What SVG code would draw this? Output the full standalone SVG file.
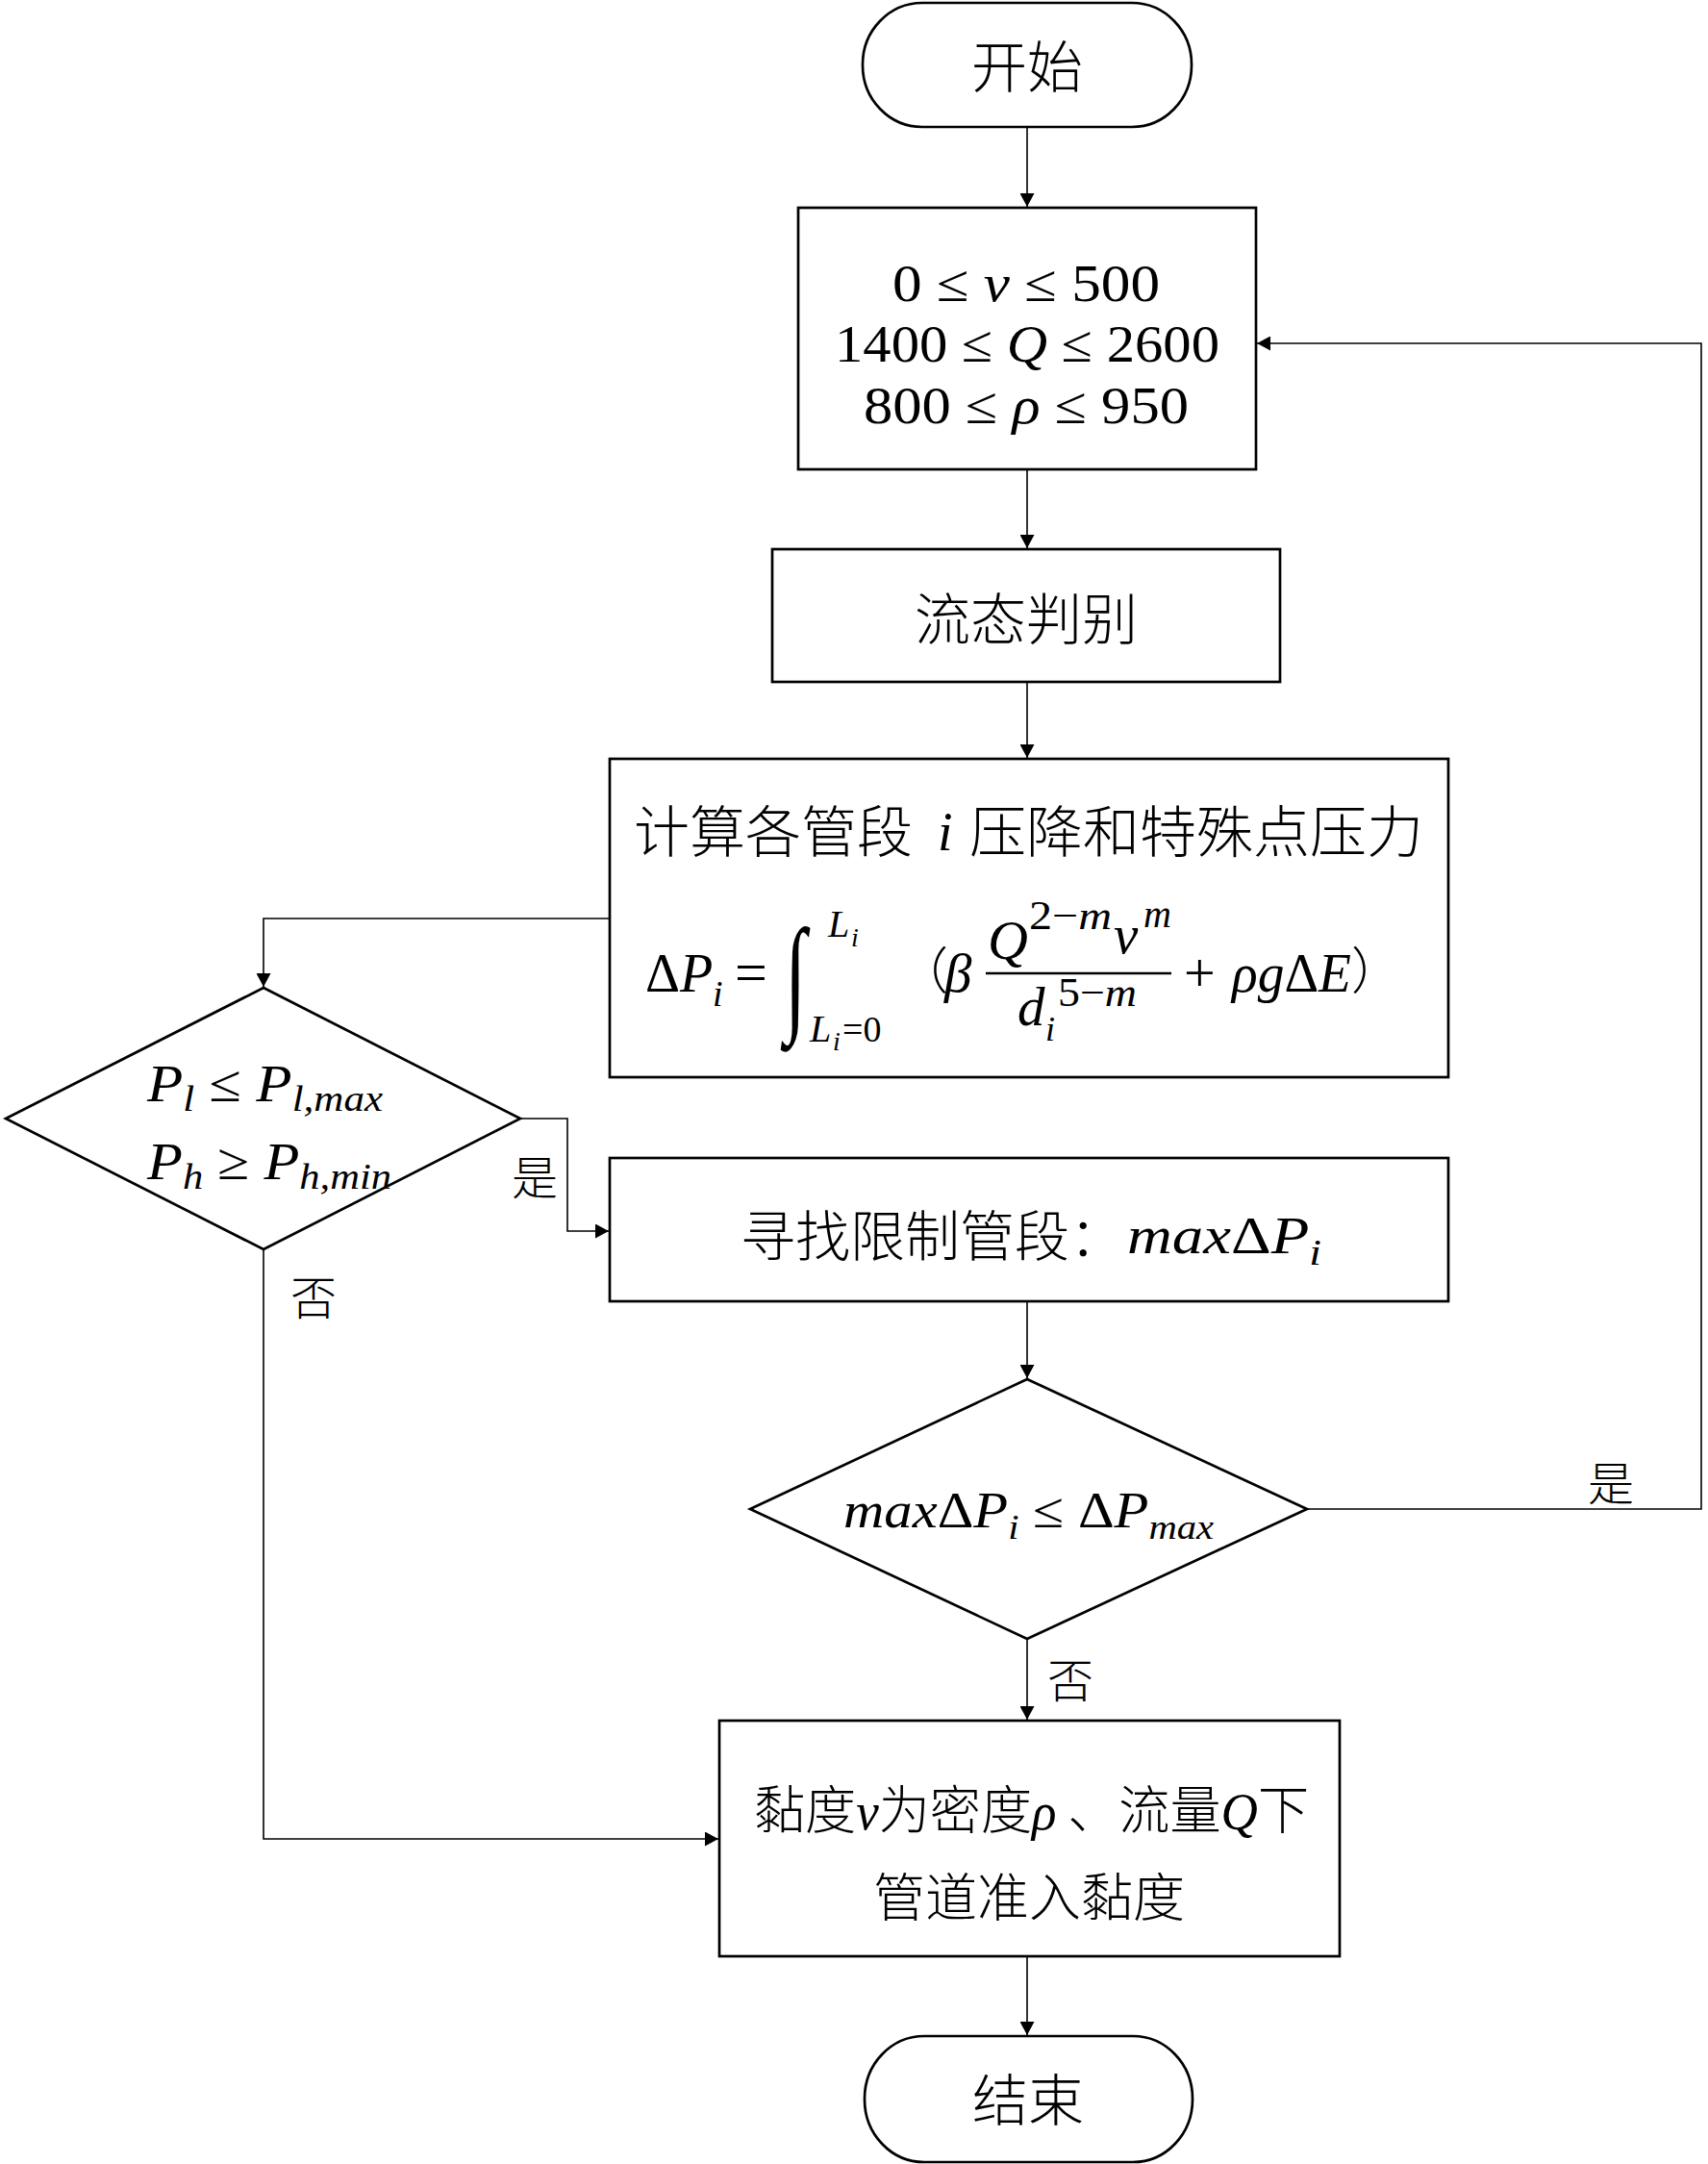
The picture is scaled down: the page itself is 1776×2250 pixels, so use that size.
<svg xmlns="http://www.w3.org/2000/svg" width="1776" height="2250" viewBox="0 0 1776 2250">
<defs>
<style>
.box{fill:#fff;stroke:#000;stroke-width:2.7}
.con{fill:none;stroke:#000;stroke-width:1.6}
.cjk{font-family:"Noto Sans CJK SC","Noto Sans CJK JP",sans-serif;font-weight:300;fill:#000}
.m{font-family:"Liberation Serif","DejaVu Serif",serif;fill:#000}
.it{font-style:italic}
</style>
<marker id="ah" markerUnits="userSpaceOnUse" markerWidth="15" markerHeight="15" refX="14" refY="7.5" orient="auto">
<path d="M0,0 L14,7.5 L0,15 z" fill="#000"/>
</marker>
</defs>
<rect width="1776" height="2250" fill="#fff"/>

<g id="connectors">
<path class="con" d="M1068,132 V215" marker-end="url(#ah)"/>
<path class="con" d="M1068,488 V570" marker-end="url(#ah)"/>
<path class="con" d="M1068,709 V788" marker-end="url(#ah)"/>
<path class="con" d="M634,955 H274 V1026" marker-end="url(#ah)"/>
<path class="con" d="M541,1163 H590 V1280 H633" marker-end="url(#ah)"/>
<path class="con" d="M274,1299 V1912 H747" marker-end="url(#ah)"/>
<path class="con" d="M1068,1353 V1433" marker-end="url(#ah)"/>
<path class="con" d="M1359,1569 H1769 V357 H1307" marker-end="url(#ah)"/>
<path class="con" d="M1068,1704 V1788" marker-end="url(#ah)"/>
<path class="con" d="M1068,2034 V2116" marker-end="url(#ah)"/>
<text class="cjk" x="556" y="1242" font-size="48" text-anchor="middle">是</text>
<text class="cjk" x="326" y="1367" font-size="48" text-anchor="middle">否</text>
<text class="cjk" x="1675" y="1560" font-size="48" text-anchor="middle">是</text>
<text class="cjk" x="1113" y="1765" font-size="48" text-anchor="middle">否</text>
</g>

<g id="start">
<rect class="box" x="897" y="3" width="342" height="129" rx="62" ry="64"/>
<text class="cjk" x="1068" y="91" font-size="58" text-anchor="middle">开始</text>
</g>

<g id="ranges">
<rect class="box" x="830" y="216" width="476" height="272"/>
<text class="m" x="1067" y="313" font-size="54" text-anchor="middle" textLength="278" lengthAdjust="spacingAndGlyphs">0 ≤ <tspan class="it">ν</tspan> ≤ 500</text>
<text class="m" x="1068" y="376" font-size="54" text-anchor="middle" textLength="400" lengthAdjust="spacingAndGlyphs">1400 ≤ <tspan class="it">Q</tspan> ≤ 2600</text>
<text class="m" x="1067" y="440" font-size="54" text-anchor="middle" textLength="338" lengthAdjust="spacingAndGlyphs">800 ≤ <tspan class="it">ρ</tspan> ≤ 950</text>
</g>

<g id="flow-regime">
<rect class="box" x="803" y="571" width="528" height="138"/>
<text class="cjk" x="1067" y="665" font-size="58" text-anchor="middle">流态判别</text>
</g>

<g id="pressure-calc">
<rect class="box" x="634" y="789" width="872" height="331"/>
<text class="cjk" x="659" y="886" font-size="58" textLength="290" lengthAdjust="spacingAndGlyphs">计算各管段</text>
<text class="m it" x="975" y="884" font-size="56">i</text>
<text class="cjk" x="1008" y="886" font-size="58" textLength="472" lengthAdjust="spacingAndGlyphs">压降和特殊点压力</text>
<text class="m" x="671" y="1031" font-size="56">Δ<tspan class="it">P</tspan></text>
<text class="m it" x="741" y="1046" font-size="38">i</text>
<text class="m" x="764" y="1031" font-size="60">=</text>
<text class="m" transform="translate(816,1058) scale(1.1,1.8)" font-size="74">∫</text>
<text class="m it" x="861" y="974" font-size="40">L</text>
<text class="m it" x="885" y="984" font-size="28">i</text>
<text class="m it" x="842" y="1083" font-size="40">L</text>
<text class="m it" x="866" y="1092" font-size="28">i</text>
<text class="m" x="876" y="1083" font-size="38">=0</text>
<text class="cjk" x="934" y="1028" font-size="52">（</text>
<text class="m it" x="982" y="1031" font-size="57">β</text>
<line x1="1025" y1="1012" x2="1218" y2="1012" stroke="#000" stroke-width="2.5"/>
<text class="m it" x="1027" y="997" font-size="58">Q</text>
<text class="m" x="1070" y="966" font-size="42" textLength="86" lengthAdjust="spacingAndGlyphs">2−<tspan class="it">m</tspan></text>
<text class="m it" x="1158" y="991" font-size="57">ν</text>
<text class="m it" x="1189" y="964" font-size="40">m</text>
<text class="m it" x="1058" y="1066" font-size="57">d</text>
<text class="m it" x="1087" y="1082" font-size="36">i</text>
<text class="m" x="1100" y="1046" font-size="42" textLength="82" lengthAdjust="spacingAndGlyphs">5−<tspan class="it">m</tspan></text>
<text class="m" x="1231" y="1031" font-size="58">+</text>
<text class="m" x="1281" y="1031" font-size="57" textLength="124" lengthAdjust="spacingAndGlyphs"><tspan class="it">ρg</tspan>Δ<tspan class="it">E</tspan></text>
<text class="cjk" x="1405" y="1028" font-size="52">）</text>
</g>

<g id="pressure-check">
<polygon class="box" points="274,1027 541,1163 274,1299 6,1163"/>
<text class="m" x="153" y="1145" font-size="54" textLength="245" lengthAdjust="spacingAndGlyphs"><tspan class="it">P</tspan><tspan class="it" font-size="38" dy="10">l</tspan><tspan dy="-10"> ≤ </tspan><tspan class="it">P</tspan><tspan class="it" font-size="38" dy="10">l,max</tspan></text>
<text class="m" x="153" y="1226" font-size="54" textLength="254" lengthAdjust="spacingAndGlyphs"><tspan class="it">P</tspan><tspan class="it" font-size="38" dy="10">h</tspan><tspan dy="-10"> ≥ </tspan><tspan class="it">P</tspan><tspan class="it" font-size="38" dy="10">h,min</tspan></text>
</g>

<g id="limit-segment">
<rect class="box" x="634" y="1204" width="872" height="149"/>
<text class="cjk" x="770" y="1306" font-size="57">寻找限制管段：</text>
<text class="m" x="1172" y="1303" font-size="54" textLength="202" lengthAdjust="spacingAndGlyphs"><tspan class="it">max</tspan>Δ<tspan class="it">P</tspan><tspan class="it" font-size="38" dy="12">i</tspan></text>
</g>

<g id="drop-check">
<polygon class="box" points="1068,1434 1359,1569 1068,1704 780,1569"/>
<text class="m" x="877" y="1588" font-size="52" textLength="385" lengthAdjust="spacingAndGlyphs"><tspan class="it">max</tspan>Δ<tspan class="it">P</tspan><tspan class="it" font-size="36" dy="12">i</tspan><tspan dy="-12"> ≤ Δ</tspan><tspan class="it">P</tspan><tspan class="it" font-size="36" dy="12">max</tspan></text>
</g>

<g id="result">
<rect class="box" x="748" y="1789" width="645" height="245"/>
<text class="cjk" x="784" y="1902" font-size="54" textLength="577" lengthAdjust="spacingAndGlyphs">黏度<tspan class="m it">ν</tspan>为密度<tspan class="m it">ρ</tspan> 、流量<tspan class="m it">Q</tspan>下</text>
<text class="cjk" x="1070" y="1993" font-size="54" text-anchor="middle">管道准入黏度</text>
</g>

<g id="end">
<rect class="box" x="899" y="2117" width="341" height="131" rx="62" ry="65"/>
<text class="cjk" x="1069" y="2205" font-size="58" text-anchor="middle">结束</text>
</g>
</svg>
